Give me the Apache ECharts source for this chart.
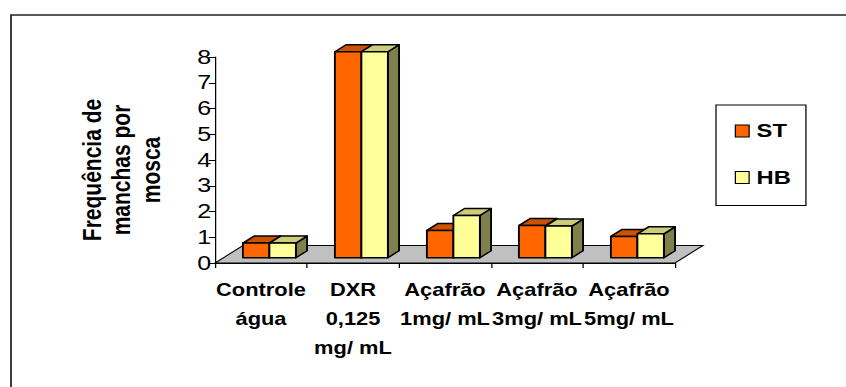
<!DOCTYPE html>
<html>
<head>
<meta charset="utf-8">
<script src="https://cdn.jsdelivr.net/npm/echarts@6/dist/echarts.min.js"></script>
<style>
  html, body { margin: 0; padding: 0; background: #ffffff; }
  #wrap { width: 846px; height: 387px; overflow: hidden; background: #ffffff; }
  #chart { height: 387px; transform-origin: 0 0; }
</style>
</head>
<body>
<div id="wrap"><div id="chart"></div></div>
<script>
// Categories, series values and value-axis ticks
const categories = ['Controle\nágua', 'DXR\n0,125\nmg/ mL', 'Açafrão\n1mg/ mL', 'Açafrão\n3mg/ mL', 'Açafrão\n5mg/ mL'];
const stValues = [0.57, 8.0, 1.06, 1.25, 0.83];
const hbValues = [0.57, 8.0, 1.64, 1.23, 0.93];
const yMin = 0;
const yMax = 8;
const yStep = 1;
const seriesNames = ['ST', 'HB'];

// The page is drawn narrow and widened horizontally (wide-glyph look)
const SX = 1.25;
const W = 846 / SX;
const H = 387;
const el = document.getElementById('chart');
el.style.width = W + 'px';
el.style.transform = 'scaleX(' + SX + ')';

const FONT = '"Liberation Sans", Arial, sans-serif';
const BAR_FRAC = 0.288;     // bar width as share of a category band
const DEPTH_FRAC = 0.304;   // floor depth (x) as share of a band
const DEPTH_PX = 17.5;      // floor depth (y) in px

const palette = {
  ST: { front: '#ff6600', top: '#cc5200', side: '#993d00' },
  HB: { front: '#ffff99', top: '#cccc7a', side: '#80804d' }
};

function boxRenderer(shade, slot) {
  return function (params, api) {
    const idx = api.value(0);
    const base = api.coord([idx, 0]);
    const top = api.coord([idx, api.value(1)]);
    const band = api.size([1, 0])[0];
    const bw = band * BAR_FRAC;
    const dx = band * DEPTH_FRAC, dy = DEPTH_PX;
    const ox = dx * 0.3, oy = dy * 0.3;
    const bdx = dx * 0.4, bdy = dy * 0.4;
    const x0 = base[0] + (slot === 0 ? -bw : 0) + ox;
    const x1 = x0 + bw;
    const yb = base[1] - oy;
    const yt = top[1] - oy;
    const stroke = { stroke: '#000000', lineWidth: 1.5, lineJoin: 'round' };
    return {
      type: 'group',
      children: [
        { type: 'polygon', shape: { points: [[x1, yt], [x1 + bdx, yt - bdy], [x1 + bdx, yb - bdy], [x1, yb]] },
          style: Object.assign({ fill: shade.side }, stroke) },
        { type: 'polygon', shape: { points: [[x0, yt], [x1, yt], [x1 + bdx, yt - bdy], [x0 + bdx, yt - bdy]] },
          style: Object.assign({ fill: shade.top }, stroke) },
        { type: 'rect', shape: { x: x0, y: yt, width: bw, height: yb - yt },
          style: Object.assign({ fill: shade.front }, stroke) }
      ]
    };
  };
}

function floorRenderer(params, api) {
  const c0 = api.coord([0, 0]);
  const band = api.size([1, 0])[0];
  const L = c0[0] - band / 2;
  const R = L + band * categories.length;
  const dx = band * DEPTH_FRAC, dy = DEPTH_PX;
  const y0 = c0[1];
  return {
    type: 'polygon',
    shape: { points: [[L, y0], [R, y0], [R + dx, y0 - dy], [L + dx, y0 - dy]] },
    style: { fill: '#c0c0c0', stroke: '#000000', lineWidth: 1 }
  };
}

const chart = echarts.init(el, null, { renderer: 'svg', width: W, height: H });

chart.setOption({
  animation: false,
  backgroundColor: '#ffffff',
  grid: { left: 215 / SX, right: W - 675 / SX, top: 57, bottom: H - 263, containLabel: false },
  xAxis: {
    type: 'category',
    data: categories,
    boundaryGap: true,
    z: 10,
    axisLine: { show: true, lineStyle: { color: '#000000', width: 1 } },
    axisTick: { show: true, length: 5, lineStyle: { color: '#000000' } },
    axisLabel: {
      interval: 0, margin: 12, color: '#000000', fontFamily: FONT,
      fontWeight: 'bold', fontSize: 17.5, lineHeight: 29, align: 'center'
    },
    splitLine: { show: false }
  },
  yAxis: {
    type: 'value',
    min: yMin, max: yMax, interval: yStep,
    z: 10,
    axisLine: { show: true, lineStyle: { color: '#000000', width: 1 } },
    axisTick: { show: true, length: 5, lineStyle: { color: '#000000' } },
    axisLabel: { margin: 3, color: '#000000', fontFamily: FONT, fontSize: 20 },
    splitLine: { show: false }
  },
  legend: {
    orient: 'vertical',
    left: 716 / SX,
    top: 105,
    padding: [16, 12, 18, 15],
    itemGap: 26.5,
    itemWidth: 11,
    itemHeight: 12,
    borderColor: '#000000',
    borderWidth: 1,
    backgroundColor: '#ffffff',
    selectedMode: false,
    data: seriesNames.map(function (n) {
      return { name: n, icon: 'rect', itemStyle: { color: palette[n].front, borderColor: '#000000', borderWidth: 1 } };
    }),
    textStyle: { color: '#000000', fontFamily: FONT, fontWeight: 'bold', fontSize: 19, lineHeight: 20, padding: [0, 0, 0, 1] }
  },
  graphic: [
    {
      type: 'rect', silent: true, z: 100,
      shape: { x: 11 / SX, y: 15, width: W + 20, height: H + 20 },
      style: { fill: 'none', stroke: '#222222', lineWidth: 1.4 }
    },
    {
      type: 'text', silent: true,
      x: 121 / SX, y: 170, rotation: Math.PI / 2,
      style: {
        text: 'Frequência de\nmanchas por\nmosca',
        font: 'bold 21px ' + FONT,
        fill: '#000000',
        align: 'center', verticalAlign: 'middle',
        textAlign: 'center', textVerticalAlign: 'middle',
        lineHeight: 23.5
      }
    }
  ],
  series: [
    {
      type: 'custom', name: 'floor', silent: true, z: 1,
      data: [[0, 0]], encode: { x: 0, y: 1 },
      renderItem: floorRenderer
    },
    {
      type: 'custom', name: 'ST', z: 2,
      itemStyle: { color: palette.ST.front },
      data: stValues.map(function (v, i) { return [i, v]; }),
      encode: { x: 0, y: 1 },
      renderItem: boxRenderer(palette.ST, 0)
    },
    {
      type: 'custom', name: 'HB', z: 3,
      itemStyle: { color: palette.HB.front },
      data: hbValues.map(function (v, i) { return [i, v]; }),
      encode: { x: 0, y: 1 },
      renderItem: boxRenderer(palette.HB, 1)
    }
  ]
});
</script>
</body>
</html>
